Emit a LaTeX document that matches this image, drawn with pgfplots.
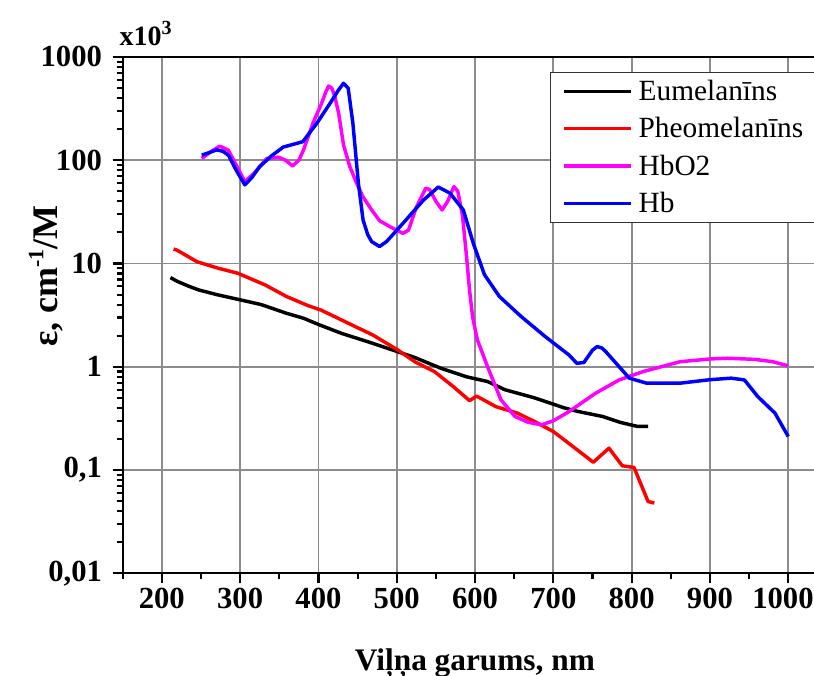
\documentclass[border=0pt]{standalone}
\usepackage{fontspec}
\setmainfont{Liberation Serif}
\usepackage{pgfplots}
\pgfplotsset{compat=1.18}
\definecolor{hbo}{RGB}{255,0,255}
\definecolor{hb}{RGB}{0,0,255}
\definecolor{pheo}{RGB}{255,0,0}
\definecolor{gridgray}{RGB}{140,140,140}
\begin{document}
\begin{tikzpicture}
\begin{axis}[
  at={(0pt,0pt)}, anchor=south west,
  scale only axis, width=522.7pt, height=387.3pt,
  ymode=log, xmin=150, xmax=1040, ymin=0.01, ymax=1000,
  xtick={200,300,400,500,600,700,800,900,1000},
  xticklabels={200,300,400,500,600,700,800,900,\kern-8pt 1000},
  minor xtick={150,250,350,450,550,650,750,850,950},
  ytick={0.01,0.1,1,10,100,1000},
  yticklabels={{0,01},{0,1},1,10,100,1000},
  minor ytick={0.02,0.03,0.04,0.05,0.06,0.07,0.08,0.09,
               0.2,0.3,0.4,0.5,0.6,0.7,0.8,0.9,
               2,3,4,5,6,7,8,9,20,30,40,50,60,70,80,90,
               200,300,400,500,600,700,800,900},
  tick pos=left,
  tick align=outside,
  major tick length=7.5pt, minor tick length=4.5pt,
  major tick style={black, line width=1.6pt},
  minor tick style={black, line width=1.6pt},
  axis line style={line width=1.6pt},
  grid=major,
  major grid style={draw=gridgray, line width=1.3pt},
  tick label style={font=\bfseries\fontsize{23}{27}\selectfont},
  yticklabel style={xshift=-4.5pt},
  every axis plot/.append style={line width=2.6pt, line join=round},
  legend style={at={(0.6132,0.9715)}, anchor=north west, draw=black!80,
    line width=0.75pt, fill=white, font=\fontsize{22}{26}\selectfont,
    inner xsep=9pt, inner ysep=4pt, row sep=7.25pt, column sep=2.5pt},
  legend cell align=left,
  legend image code/.code={\draw[#1, line width=2.6pt] (0pt,0pt) -- (50pt,0pt);},
]
\addplot[black] coordinates {(211,7.3) (220,6.7) (235,6.0) (247,5.55) (270,5.0) (300,4.45) (327,4.0) (359,3.3) (381,2.95) (401,2.55) (430,2.1) (468,1.7) (501,1.4) (523,1.23) (556,0.97) (589,0.80) (616,0.72) (638,0.60) (676,0.50) (714,0.40) (731,0.37) (763,0.33) (785,0.29) (807,0.265) (821,0.265)};
\addlegendentry{Eumelanīns}
\addplot[pheo] coordinates {(215,13.8) (219,13.5) (226,12.6) (245,10.4) (272,9.0) (297,8.05) (332,6.2) (359,4.8) (387,3.9) (403,3.55) (425,2.95) (447,2.45) (469,2.04) (501,1.46) (523,1.12) (548,0.90) (572,0.645) (593,0.47) (602,0.52) (627,0.41) (654,0.356) (676,0.295) (700,0.236) (725,0.169) (751,0.119) (771,0.163) (788,0.11) (803,0.106) (821,0.0495) (829,0.048)};
\addlegendentry{Pheomelanīns}
\addplot[hbo] coordinates {(251,104) (262,120) (274,137) (285,125) (295,90) (306,62) (318,75) (334,104) (349,107) (358,100) (367,88) (375,100) (381,126) (393,228) (404,355) (409,450) (413,523) (417,500) (421,413) (426,280) (432,141) (440,87) (448,62) (457,44) (468,33) (478,26) (491,22.8) (500,21) (508,19.6) (515,21) (525,35) (537,53.6) (542,52) (550,40) (558,33) (565,40) (573,55.6) (578,50) (584,29) (589,12) (593,5.5) (597,3.0) (603,1.82) (616,1.0) (633,0.48) (651,0.33) (668,0.29) (685,0.274) (700,0.3) (720,0.368) (754,0.555) (784,0.746) (815,0.90) (862,1.12) (900,1.19) (922,1.21) (957,1.18) (980,1.12) (1000,1.02)};
\addlegendentry{HbO2}
\addplot[hb] coordinates {(251,112) (260,118) (270,126) (278,122) (285,112) (295,80) (306,57.7) (315,68) (325,86.7) (340,110) (355,134) (380,151) (390,190) (398,228) (415,357) (425,470) (432,556) (438,498) (444,228) (451,60) (457,26.4) (463,19) (468,16.3) (478,14.6) (487,16.3) (508,24.5) (534,41) (553,55) (568,48) (585,33) (598,15.5) (612,7.8) (631,4.8) (659,3.06) (690,1.95) (720,1.3) (730,1.08) (739,1.10) (750,1.45) (756,1.57) (762,1.52) (767,1.40) (797,0.776) (819,0.694) (862,0.694) (900,0.75) (927,0.776) (944,0.746) (961,0.515) (983,0.356) (1000,0.211)};
\addlegendentry{Hb}
\end{axis}
\node[anchor=base west, font=\bfseries\fontsize{21}{25}\selectfont] at (-5.8pt,396.2pt) {x10\raisebox{8pt}{\fontsize{15}{17}\selectfont 3}};
\node[rotate=90, anchor=base, font=\bfseries\fontsize{27}{31}\selectfont] at (-49pt,223pt) {ε, cm\raisebox{10.5pt}{\fontsize{16.5}{19}\selectfont -1}/M};
\node[anchor=base, font=\bfseries\fontsize{23.5}{28}\selectfont] at (264.2pt,-72.5pt) {Viļņa garums, nm};
\pgfresetboundingbox
\path[use as bounding box] (-92pt,-76.3pt) rectangle (518.5pt,430pt);
\end{tikzpicture}
\end{document}
